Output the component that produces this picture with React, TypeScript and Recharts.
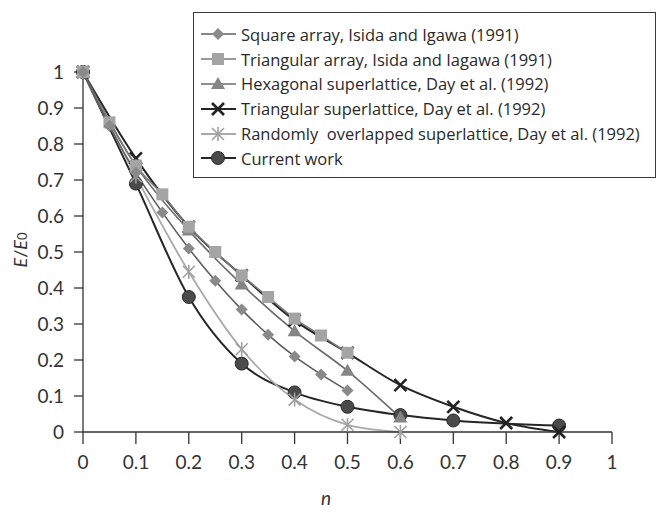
import { LineChart, Line, XAxis, YAxis, Legend, Label } from "recharts";

// n values shared by all series (null = no point at that n)
const nValues = [0, 0.05, 0.1, 0.15, 0.2, 0.25, 0.3, 0.35, 0.4, 0.45, 0.5, 0.6, 0.7, 0.8, 0.9];
const xTicks = [0, 0.1, 0.2, 0.3, 0.4, 0.5, 0.6, 0.7, 0.8, 0.9, 1];
const yTicks = [0, 0.1, 0.2, 0.3, 0.4, 0.5, 0.6, 0.7, 0.8, 0.9, 1];

const squareArray = [1, 0.85, 0.72, 0.61, 0.51, 0.42, 0.34, 0.27, 0.21, 0.16, 0.115, null, null, null, null];
const triangularArray = [1, 0.86, 0.74, 0.66, 0.57, 0.5, 0.435, 0.375, 0.315, 0.268, 0.22, null, null, null, null];
const hexagonalSuper = [1, null, 0.74, null, 0.56, null, 0.41, null, 0.28, null, 0.17, 0.04, null, null, null];
const triangularSuper = [1, null, 0.76, null, 0.57, null, 0.435, null, 0.31, null, 0.22, 0.13, 0.07, 0.025, 0];
const randomSuper = [1, null, 0.71, null, 0.445, null, 0.23, null, 0.09, null, 0.02, 0, null, null, null];
const currentWork = [1, null, 0.69, null, 0.375, null, 0.19, null, 0.11, null, 0.07, 0.047, 0.032, null, 0.018];

const seriesNames = [
  "Square array, Isida and Igawa (1991)",
  "Triangular array, Isida and Iagawa (1991)",
  "Hexagonal superlattice, Day et al. (1992)",
  "Triangular superlattice, Day et al. (1992)",
  "Randomly  overlapped superlattice, Day et al. (1992)",
  "Current work",
];

const data = nValues.map((n, i) => ({
  n,
  sq: squareArray[i],
  tri: triangularArray[i],
  hex: hexagonalSuper[i],
  tsl: triangularSuper[i],
  rnd: randomSuper[i],
  cur: currentWork[i],
}));

const series = [
  { key: "sq", name: seriesNames[0], shape: "diamond", line: "#5e5e5e", width: 1.6 },
  { key: "tri", name: seriesNames[1], shape: "square", line: "#7a7a7a", width: 1.6 },
  { key: "hex", name: seriesNames[2], shape: "triangle", line: "#6a6a6a", width: 1.6 },
  { key: "tsl", name: seriesNames[3], shape: "x", line: "#262626", width: 2 },
  { key: "rnd", name: seriesNames[4], shape: "asterisk", line: "#a9a9a9", width: 1.8 },
  { key: "cur", name: seriesNames[5], shape: "circle", line: "#262626", width: 2 },
];

const FONT = "Lato, 'Open Sans', sans-serif";

function Marker({ shape, cx, cy }: { shape: string; cx: number; cy: number }) {
  if (shape === "diamond")
    return <polygon points={`${cx},${cy - 6} ${cx + 6},${cy} ${cx},${cy + 6} ${cx - 6},${cy}`} fill="#8a8a8a" />;
  if (shape === "square")
    return <rect x={cx - 6} y={cy - 6} width={12} height={12} fill="#a4a4a4" />;
  if (shape === "triangle")
    return <polygon points={`${cx},${cy - 7} ${cx + 7},${cy + 5} ${cx - 7},${cy + 5}`} fill="#858585" />;
  if (shape === "x")
    return (
      <g stroke="#222" strokeWidth={2.6}>
        <line x1={cx - 6} y1={cy - 6} x2={cx + 6} y2={cy + 6} />
        <line x1={cx - 6} y1={cy + 6} x2={cx + 6} y2={cy - 6} />
      </g>
    );
  if (shape === "asterisk")
    return (
      <g stroke="#a0a0a0" strokeWidth={1.6}>
        <line x1={cx - 6} y1={cy - 6} x2={cx + 6} y2={cy + 6} />
        <line x1={cx - 6} y1={cy + 6} x2={cx + 6} y2={cy - 6} />
        <line x1={cx} y1={cy - 7} x2={cx} y2={cy + 7} />
      </g>
    );
  return <circle cx={cx} cy={cy} r={6.5} fill="#4a4a4a" stroke="#2a2a2a" strokeWidth={1} />;
}

function renderLegend() {
  return (
    <div
      style={{
        boxSizing: "border-box",
        width: 463,
        height: 166,
        border: "1.5px solid #3a3a3a",
        background: "#fff",
        paddingTop: 9,
        fontFamily: "'Open Sans', sans-serif",
        fontSize: 16.5,
        color: "#2a2a2a",
      }}
    >
      {series.map((s) => (
        <div key={s.key} style={{ display: "flex", alignItems: "center", height: 24.8 }}>
          <svg width={46} height={20} style={{ flex: "none" }}>
            <line x1={7} y1={10} x2={42} y2={10} stroke={s.line} strokeWidth={s.width} />
            <Marker shape={s.shape} cx={24} cy={10} />
          </svg>
          <span style={{ whiteSpace: "pre", marginLeft: 1 }}>{s.name}</span>
        </div>
      ))}
    </div>
  );
}

const renderYTitle = () => (
  <text
    transform="translate(20,250) rotate(-90)"
    textAnchor="middle"
    dominantBaseline="central"
    fontFamily={FONT}
    fontSize={18}
    fill="#333"
  >
    <tspan fontStyle="italic">E</tspan>
    <tspan>/</tspan>
    <tspan fontStyle="italic">E</tspan>
    <tspan fontSize={13} dy={2}>0</tspan>
  </text>
);

const renderXTitle = () => (
  <text x={326} y={505} textAnchor="middle" fontFamily={FONT} fontSize={19} fontStyle="italic" fill="#333">
    n
  </text>
);

export default function App() {
  return (
    <div style={{ position: "absolute", left: 0, top: 0, width: 667, height: 514, background: "#fff", overflow: "hidden" }}>
      <LineChart width={667} height={514} data={data} margin={{ top: 72, right: 55, left: 23, bottom: 42 }}>
        <XAxis
          type="number"
          dataKey="n"
          domain={[0, 1]}
          ticks={xTicks}
          height={40}
          tickSize={12}
          tickMargin={12}
          stroke="#333"
          strokeWidth={1.3}
          tick={{ fontSize: 19, fill: "#333", fontFamily: FONT }}
        >
          <Label content={renderXTitle} />
        </XAxis>
        <YAxis
          type="number"
          domain={[0, 1]}
          ticks={yTicks}
          width={60}
          tickSize={9}
          tickMargin={10}
          stroke="#333"
          strokeWidth={1.3}
          tick={{ fontSize: 19, fill: "#333", fontFamily: FONT }}
        >
          <Label content={renderYTitle} />
        </YAxis>
        <Legend
          layout="vertical"
          align="center"
          verticalAlign="middle"
          content={renderLegend}
          wrapperStyle={{ left: 193, top: 12, width: 463, height: 166 }}
        />
        {[...series].reverse().map((s) => (
          <Line
            key={s.key}
            dataKey={s.key}
            name={s.name}
            type="monotone"
            stroke={s.line}
            strokeWidth={s.width}
            connectNulls
            isAnimationActive={false}
            dot={(p: any) =>
              p.cx == null || p.cy == null || p.value == null ? (
                <g key={`${s.key}-${p.index}`} />
              ) : (
                <g key={`${s.key}-${p.index}`}>
                  <Marker shape={s.shape} cx={p.cx} cy={p.cy} />
                </g>
              )
            }
            activeDot={false}
          />
        ))}
      </LineChart>
    </div>
  );
}
